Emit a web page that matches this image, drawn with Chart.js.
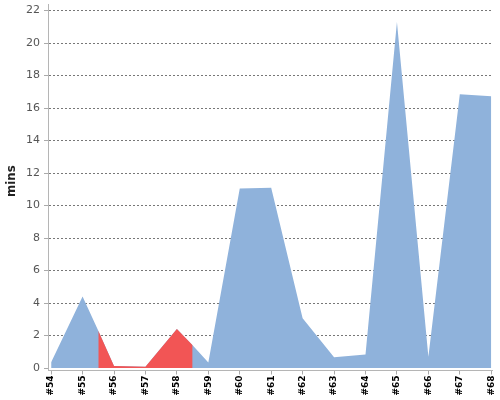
<!DOCTYPE html>
<html>
<head>
<meta charset="utf-8">
<script src="https://cdn.jsdelivr.net/npm/chart.js@4"></script>
<style>
  html, body { margin: 0; padding: 0; background: #fff; }
  #wrap { width: 500px; height: 400px; }
</style>
</head>
<body>
<div id="wrap"><canvas id="runChart" width="500" height="400"></canvas></div>
<script>
// build numbers on the x axis (#54 .. #68), half steps mark where the red part starts/ends
const buildX = [54, 55, 55.5, 56, 57, 58, 58.5, 59, 60, 61, 62, 63, 64, 65, 66, 67, 68];
const buildMins = [0.35, 4.4, 2.3, 0.12, 0.08, 2.4, 1.4, 0.34, 11.05, 11.1, 3.07, 0.66, 0.83, 21.3, 0.7, 16.85, 16.72];

const failX = [55.5, 56, 57, 58, 58.5];
const failMins = [2.3, 0.12, 0.08, 2.4, 1.4];

const xTicks = [54, 55, 56, 57, 58, 59, 60, 61, 62, 63, 64, 65, 66, 67, 68];
const yTicks = [0, 2, 4, 6, 8, 10, 12, 14, 16, 18, 20, 22];

const toPoints = (xs, ys) => xs.map((x, i) => ({ x, y: ys[i] }));

const ctx = document.getElementById("runChart").getContext("2d");

new Chart(ctx, {
  type: "line",
  data: {
    datasets: [
      {
        label: "failed",
        data: toPoints(failX, failMins),
        backgroundColor: "#f25555",
        borderWidth: 0,
        pointRadius: 0,
        fill: "origin",
        order: 0,
      },
      {
        label: "mins",
        data: toPoints(buildX, buildMins),
        backgroundColor: "#8fb2db",
        borderWidth: 0,
        pointRadius: 0,
        fill: "origin",
        order: 1,
      },
    ],
  },
  options: {
    responsive: false,
    animation: false,
    layout: { padding: { top: 4, right: 7.5, left: 0, bottom: 0 } },
    plugins: { legend: { display: false }, tooltip: { enabled: false } },
    scales: {
      x: {
        type: "linear",
        // small margin so the axis lines sit just outside the data, like the original
        min: 53.9,
        max: 68.04,
        afterFit: (s) => {
          s.height = 29.5;
          s.paddingLeft = 0;
          s.paddingRight = 0;
        },
        afterBuildTicks: (s) => { s.ticks = xTicks.map(v => ({ value: v })); },
        ticks: {
          autoSkip: false,
          minRotation: 90,
          maxRotation: 90,
          padding: 1,
          color: "#000",
          font: { family: "DejaVu Sans", size: 9, weight: "bold" },
          callback: (v) => "#" + v,
        },
        grid: { drawOnChartArea: false, drawTicks: true, tickLength: 4, color: "#aaa" },
        border: { display: true, color: "#b5b5b5", width: 1 },
      },
      y: {
        min: -0.15,
        max: 22.4,
        z: 1,
        afterFit: (s) => {
          s.width = 48;
          s.paddingTop = 0;
          s.paddingBottom = 0;
        },
        afterBuildTicks: (s) => { s.ticks = yTicks.map(v => ({ value: v })); },
        ticks: {
          padding: 4,
          color: "#555",
          font: { family: "DejaVu Sans", size: 11 },
        },
        grid: {
          color: (c) => (c.tick && c.tick.value === 0 ? "rgba(0,0,0,0)" : "#777"),
          tickColor: "#aaa",
          tickLength: 4,
          tickBorderDash: [],
        },
        border: { display: true, color: "#b5b5b5", width: 1, dash: [2, 2] },
        title: {
          display: true,
          text: "   mins",
          color: "#222",
          padding: { top: 4, bottom: 0 },
          font: { family: "DejaVu Sans Condensed, Liberation Sans", size: 13, weight: "bold" },
        },
      },
    },
  },
});
</script>
</body>
</html>
